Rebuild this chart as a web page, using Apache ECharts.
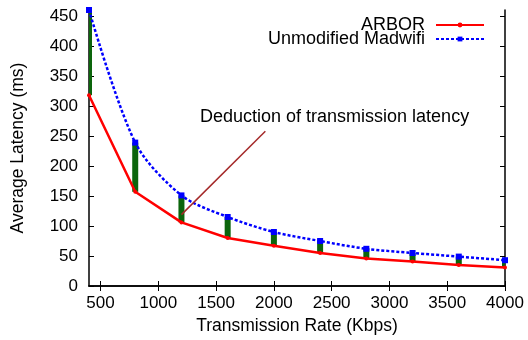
<!DOCTYPE html>
<html>
<head>
<meta charset="utf-8">
<script src="https://cdn.jsdelivr.net/npm/echarts@6/dist/echarts.min.js"></script>
<style>
  html, body { margin: 0; padding: 0; background: #fff; }
  #chart { width: 528px; height: 340px; }
</style>
</head>
<body>
<div id="chart"></div>
<script>
// values
const rates = [400, 800, 1200, 1600, 2000, 2400, 2800, 3200, 3600, 4000];
const arbor = [318, 157, 106, 80, 67, 55, 46, 41, 35, 31];
const madwifi = [460, 239, 151, 115, 90, 75, 62, 55, 49, 43];
const xTicks = [500, 1000, 1500, 2000, 2500, 3000, 3500, 4000];
const yTicks = [0, 50, 100, 150, 200, 250, 300, 350, 400, 450];
const noteText = 'Deduction of transmission latency';
const arrowFrom = [1926, 258];
const arrowTo = [1200, 119];

const font = '"Liberation Sans", Arial, sans-serif';

const chart = echarts.init(document.getElementById('chart'), null, { renderer: 'canvas' });

const gap = rates.map((r, i) => [r, arbor[i], madwifi[i]]);

const axisLine = { show: true, lineStyle: { color: '#000', width: 1.5 } };
const inTick = { show: true, inside: true, length: 5, lineStyle: { color: '#000', width: 1 } };
const plain = v => String(v);

const options = {
  backgroundColor: '#fff',
  animation: false,
  textStyle: { fontFamily: font },
  grid: { left: 89, right: 23, top: 10, bottom: 54 },
  legend: {
    show: true,
    orient: 'vertical',
    right: 38,
    top: 11,
    align: 'right',
    itemWidth: 48,
    itemHeight: 6,
    itemGap: -4,
    textStyle: { fontFamily: font, fontSize: 18, color: '#000', padding: [0, 6, 0, 0] },
    data: ['ARBOR', 'Unmodified Madwifi']
  },
  xAxis: [
    {
      type: 'value',
      min: 400,
      max: 4000,
      interval: 100,
      name: 'Transmission Rate (Kbps)',
      nameLocation: 'middle',
      nameGap: 31,
      nameTextStyle: { fontFamily: font, fontSize: 17.5, color: '#000' },
      axisLine: axisLine,
      axisTick: Object.assign({}, inTick, { customValues: xTicks }),
      axisLabel: { customValues: xTicks, formatter: plain, margin: 9, fontFamily: font, fontSize: 17, color: '#000' },
      splitLine: { show: false }
    },
    {
      type: 'value',
      position: 'top',
      min: 400,
      max: 4000,
      interval: 100,
      axisLine: axisLine,
      axisTick: Object.assign({}, inTick, { customValues: xTicks }),
      axisLabel: { show: false },
      splitLine: { show: false }
    }
  ],
  yAxis: [
    {
      type: 'value',
      min: 0,
      max: 460,
      interval: 50,
      name: 'Average Latency (ms)',
      nameLocation: 'middle',
      nameGap: 62,
      nameTextStyle: { fontFamily: font, fontSize: 17.5, color: '#000' },
      axisLine: axisLine,
      axisTick: Object.assign({}, inTick, { customValues: yTicks }),
      axisLabel: { customValues: yTicks, formatter: plain, margin: 11, fontFamily: font, fontSize: 17, color: '#000' },
      splitLine: { show: false }
    },
    {
      type: 'value',
      position: 'right',
      min: 0,
      max: 460,
      interval: 50,
      axisLine: axisLine,
      axisTick: Object.assign({}, inTick, { customValues: yTicks }),
      axisLabel: { show: false },
      splitLine: { show: false }
    }
  ],
  graphic: [
    {
      type: 'text',
      left: 200,
      top: 108,
      style: { text: noteText, fontFamily: font, fontSize: 18, fill: '#000' }
    }
  ],
  series: [
    {
      type: 'custom',
      name: 'gap',
      z: 1,
      clip: true,
      data: gap,
      renderItem(params, api) {
        const lo = api.coord([api.value(0), api.value(1)]);
        const hi = api.coord([api.value(0), api.value(2)]);
        return {
          type: 'rect',
          shape: { x: lo[0] - 3, y: hi[1], width: 6, height: lo[1] - hi[1] },
          style: { fill: '#0c650c' }
        };
      }
    },
    {
      type: 'line',
      name: 'ARBOR',
      z: 3,
      data: rates.map((r, i) => [r, arbor[i]]),
      symbol: 'circle',
      symbolSize: 4,
      clip: false,
      lineStyle: { color: '#ff0000', width: 2.5 },
      itemStyle: { color: '#ff0000' },
      markLine: {
        silent: true,
        symbol: ['none', 'arrow'],
        symbolSize: [0, 12],
        label: { show: false },
        lineStyle: { color: '#a52a2a', width: 1.5, type: 'solid' },
        data: [[{ coord: arrowFrom }, { coord: arrowTo }]]
      }
    },
    {
      type: 'line',
      name: 'Unmodified Madwifi',
      z: 4,
      data: rates.map((r, i) => [r, madwifi[i]]),
      smooth: 0.3,
      symbol: 'rect',
      symbolSize: 6,
      clip: false,
      lineStyle: { color: '#0000ff', width: 2.5, type: [3, 2] },
      itemStyle: { color: '#0000ff' }
    }
  ]
};

chart.setOption(options);
</script>
</body>
</html>
